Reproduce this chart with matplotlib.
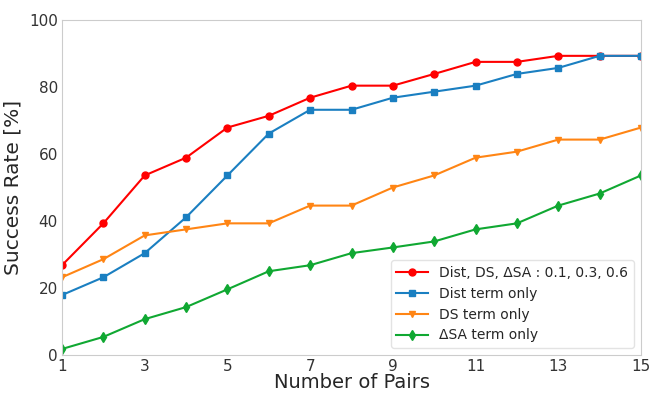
import numpy as np
import matplotlib.pyplot as plt

pairs = list(range(1, 16))
combined = [26.8, 39.3, 53.6, 58.9, 67.9, 71.4, 76.8, 80.4, 80.4, 83.9, 87.5, 87.5, 89.3, 89.3, 89.3]
dist_only = [17.9, 23.2, 30.4, 41.1, 53.6, 66.1, 73.2, 73.2, 76.8, 78.6, 80.4, 83.9, 85.7, 89.3, 89.3]
ds_only = [23.2, 28.6, 35.7, 37.5, 39.3, 39.3, 44.6, 44.6, 50.0, 53.6, 58.9, 60.7, 64.3, 64.3, 67.9]
dsa_only = [1.8, 5.4, 10.7, 14.3, 19.6, 25.0, 26.8, 30.4, 32.1, 33.9, 37.5, 39.3, 44.6, 48.2, 53.6]
labels = ["Dist, DS, \u0394SA : 0.1, 0.3, 0.6", "Dist term only", "DS term only", "\u0394SA term only"]

fig = plt.figure(figsize=(6.5, 3.93), dpi=100)
ax = fig.add_axes([62 / 650, 38 / 393, 579 / 650, 335 / 393])

ax.plot(pairs, combined, color="#ff0000", marker="o", markersize=5, lw=1.5, label=labels[0])
ax.plot(pairs, dist_only, color="#1a7fc1", marker="s", markersize=5, lw=1.5, label=labels[1])
ax.plot(pairs, ds_only, color="#ff8514", marker="v", markersize=5, lw=1.5, label=labels[2])
ax.plot(pairs, dsa_only, color="#10a832", marker="d", markersize=5, lw=1.5, label=labels[3])

ax.set_xlim(1, 15)
ax.set_ylim(0, 100)
ax.set_xticks(range(1, 16, 2))
ax.set_yticks(range(0, 101, 20))
ax.tick_params(length=0, labelsize=11, colors="#333333", pad=3)
for s in ax.spines.values():
    s.set_color("#cccccc")
ax.set_xlabel("Number of Pairs", fontsize=14, color="#262626", labelpad=-1)
ax.set_ylabel("Success Rate [%]", fontsize=14.5, color="#262626", labelpad=5)
leg = ax.legend(loc="lower right", fontsize=10, frameon=True, edgecolor="#dddddd",
                handlelength=2.3, borderaxespad=0.5)
for t in leg.get_texts():
    t.set_color("#262626")

fig.savefig("out.png", dpi=100)
